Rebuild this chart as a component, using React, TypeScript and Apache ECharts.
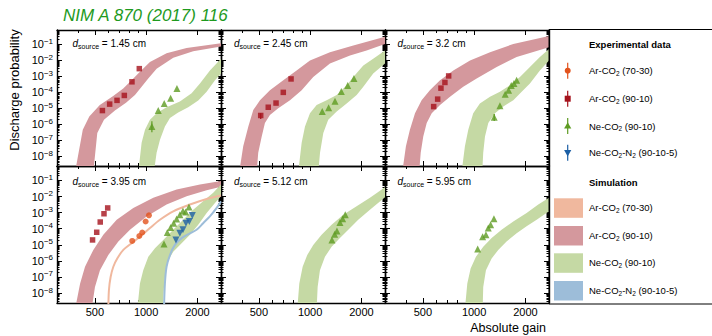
import React, { useEffect, useRef } from "react";
import * as echarts from "echarts";

type Pt = [number, number];
type Err = [number, number, number];

const FONT = "'Liberation Sans', Arial, Helvetica, sans-serif";

// ---- axes ----
const gainMin = 300;
const gainMax = 2750;
const probMin = 2.4e-9;
const probMax = 0.79;
const xTickValues = [500, 1000, 2000];
const xMinorTickValues = [300, 400, 600, 700, 800, 900];
const yTickExponents = [-8, -7, -6, -5, -4, -3, -2, -1];
const yMinorMantissas = [2, 3, 4, 5, 6, 7, 8, 9];
const panelSources = ["1.45", "2.45", "3.2", "3.95", "5.12", "5.95"];

const titleText = "NIM A 870 (2017) 116";
const yAxisTitle = "Discharge probability";
const xAxisTitle = "Absolute gain";
const legendExpTitle = "Experimental data";
const legendSimTitle = "Simulation";
const gasKeys = ["ar7030", "ar9010", "ne", "neN2"];
const gasLabels = [
  "{t|Ar-CO}{s|2}{t| (70-30)}",
  "{t|Ar-CO}{s|2}{t| (90-10)}",
  "{t|Ne-CO}{s|2}{t| (90-10)}",
  "{t|Ne-CO}{s|2}{t|-N}{s|2}{t| (90-10-5)}",
];

// ---- panel 1: d = 1.45 cm ----
const p1ArGain = [554, 611, 675, 745, 826, 912];
const p1ArProb = [7.1e-6, 1.8e-5, 3.1e-5, 6.3e-5, 4.5e-4, 3.0e-3];
const p1NeGain = [1081, 1178, 1277, 1392, 1517];
const p1NeProb = [7.2e-7, 7.1e-6, 2.0e-5, 4.2e-5, 1.7e-4];
const p1NeErr: Err[] = [[1081, 3.1e-7, 1.5e-6]];
const p1ArSimHi: Pt[] = [[383, 1e-9], [425, 4.5e-7], [464, 3.0e-6], [535, 1.6e-5], [641, 5.8e-5], [734, 1.7e-4], [822, 5.6e-4], [920, 1.9e-3], [1053, 7.8e-3], [1318, 2.8e-2], [1727, 6.0e-2], [2750, 1.15e-1]];
const p1ArSimLo: Pt[] = [[490, 1e-9], [517, 2.8e-7], [566, 1.9e-6], [656, 7.1e-6], [762, 2.2e-5], [860, 6.6e-5], [941, 2.2e-4], [1029, 7.2e-4], [1152, 3.0e-3], [1443, 1.45e-2], [1889, 3.7e-2], [2750, 7.2e-2]];
const p1NeSimHi: Pt[] = [[900, 1e-9], [941, 6.8e-8], [985, 4.5e-7], [1053, 1.9e-6], [1152, 4.9e-6], [1318, 1.15e-5], [1578, 2.6e-5], [1849, 8.5e-5], [2069, 3.5e-4], [2368, 2.3e-3], [2750, 1.26e-2]];
const p1NeSimLo: Pt[] = [[1111, 1e-9], [1152, 1.6e-8], [1206, 1.07e-7], [1289, 7.2e-7], [1380, 2.4e-6], [1542, 5.4e-6], [1766, 1.15e-5], [2022, 3.0e-5], [2265, 1.07e-4], [2535, 5.6e-4], [2750, 1.5e-3]];

// ---- panel 2: d = 2.45 cm ----
const p2ArGain = [513, 568, 631, 696, 773];
const p2ArProb = [3.5e-6, 1.15e-5, 2.1e-5, 9.8e-5, 6.8e-4];
const p2ArErr: Err[] = [[513, 2.1e-6, 4.9e-6]];
const p2NeGain = [1178, 1284, 1400, 1524, 1661, 1808];
const p2NeProb = [6.2e-6, 1.05e-5, 2.7e-5, 1.1e-4, 2.6e-4, 7.2e-4];
const p2ArSimHi: Pt[] = [[384, 1e-9], [405, 4.2e-8], [434, 7.2e-7], [464, 7.8e-6], [508, 3.2e-5], [581, 1.35e-4], [696, 5.6e-4], [833, 2.3e-3], [998, 9.8e-3], [1307, 3.2e-2], [1792, 8.3e-2], [2750, 3.0e-1]];
const p2ArSimLo: Pt[] = [[486, 1e-9], [496, 1.6e-8], [520, 1.7e-7], [543, 1.17e-6], [581, 3.8e-6], [650, 1.0e-5], [762, 3.2e-5], [892, 1.35e-4], [1043, 9.1e-4], [1307, 6.2e-3], [1714, 2.0e-2], [2145, 4.1e-2], [2750, 1.05e-1]];
const p2NeSimHi: Pt[] = [[852, 1e-9], [892, 6.8e-8], [933, 7.2e-7], [998, 4.9e-6], [1092, 1.6e-5], [1250, 3.2e-5], [1432, 6.6e-5], [1638, 2.75e-4], [1792, 9.1e-4], [2051, 4.8e-3], [2345, 1.26e-2], [2750, 4.1e-2]];
const p2NeSimLo: Pt[] = [[1117, 1e-9], [1143, 1.6e-8], [1195, 2.8e-7], [1277, 1.9e-6], [1432, 6.2e-6], [1638, 2.0e-5], [1875, 6.6e-5], [2051, 2.2e-4], [2345, 1.5e-3], [2750, 6.2e-3]];

// ---- panel 3: d = 3.2 cm ----
const p3ArGain = [579, 611, 639, 674, 709];
const p3ArProb = [1.26e-5, 3.7e-5, 1.8e-4, 4.1e-4, 1.05e-3];
const p3NeGain = [1312, 1417, 1522, 1593, 1651, 1713, 1776];
const p3NeProb = [2.75e-6, 1.4e-5, 7.6e-5, 1.35e-4, 2.6e-4, 3.5e-4, 5.6e-4];
const p3NeErr: Err[] = [[1312, 1.6e-6, 4.4e-6]];
const p3ArSimHi: Pt[] = [[379, 1e-9], [398, 4.2e-8], [420, 4.5e-7], [450, 4.9e-6], [492, 3.2e-5], [550, 1.35e-4], [631, 5.6e-4], [755, 2.3e-3], [946, 9.8e-3], [1240, 3.2e-2], [1698, 1.05e-1], [2750, 3.3e-1]];
const p3ArSimLo: Pt[] = [[476, 1e-9], [486, 1.6e-8], [503, 1.7e-7], [527, 1.17e-6], [564, 4.9e-6], [631, 1.6e-5], [722, 5.2e-5], [863, 2.2e-4], [1035, 7.2e-4], [1356, 3.8e-3], [1776, 1.6e-2], [2750, 6.5e-2]];
const p3NeSimHi: Pt[] = [[845, 1e-9], [883, 4.2e-8], [924, 4.5e-7], [988, 4.9e-6], [1081, 2.0e-5], [1239, 5.2e-5], [1417, 1.07e-4], [1622, 2.75e-4], [1857, 9.1e-4], [2125, 3.8e-3], [2432, 1.6e-2], [2750, 5.1e-2]];
const p3NeSimLo: Pt[] = [[1116, 1e-9], [1131, 1.6e-8], [1158, 1.7e-7], [1211, 1.17e-6], [1325, 4.9e-6], [1483, 1.26e-5], [1698, 3.2e-5], [1901, 1.07e-4], [2125, 3.5e-4], [2432, 2.3e-3], [2750, 9.8e-3]];

// ---- panel 4: d = 3.95 cm ----
const p4ArGain = [485, 513, 538, 566, 595];
const p4ArProb = [2.0e-5, 6.0e-5, 2.6e-4, 8.5e-4, 1.95e-3];
const p4Ar7030Gain = [829, 912, 949, 993, 1039];
const p4Ar7030Prob = [1.74e-5, 3.5e-5, 5.8e-5, 2.8e-4, 6.8e-4];
const p4NeGain = [1273, 1331, 1393, 1450, 1510, 1578, 1644, 1705, 1784];
const p4NeProb = [1.12e-5, 5.8e-5, 1.17e-4, 2.2e-4, 4.0e-4, 7.4e-4, 1.26e-3, 1.1e-3, 2.2e-3];
const p4NeN2Gain = [1496, 1578, 1644, 1713, 1792, 1866];
const p4NeN2Prob = [2.0e-5, 5.2e-5, 8.5e-5, 2.2e-4, 2.8e-4, 6.5e-4];
const p4ArSimHi: Pt[] = [[383, 1e-9], [410, 3.9e-8], [438, 4.3e-7], [490, 4.8e-6], [561, 4.2e-5], [672, 3.6e-4], [841, 1.95e-3], [1102, 8.3e-3], [1510, 2.75e-2], [2069, 5.6e-2], [2750, 9.1e-2]];
const p4ArSimLo: Pt[] = [[479, 1e-9], [501, 2.4e-8], [536, 2.6e-7], [600, 2.3e-6], [687, 1.6e-5], [804, 8.5e-5], [1006, 5.8e-4], [1318, 3.2e-3], [1729, 1.05e-2], [2265, 2.45e-2], [2750, 4.0e-2]];
const p4Ar7030Sim: Pt[] = [[600, 1e-9], [605, 1.5e-8], [619, 1.0e-7], [642, 4.3e-7], [677, 1.4e-6], [735, 4.8e-6], [822, 1.26e-5], [920, 3.2e-5], [1053, 1.1e-4], [1205, 3.6e-4], [1442, 1.2e-3], [1808, 3.2e-3], [2265, 7.1e-3], [2750, 1.15e-2]];
const p4NeSimHi: Pt[] = [[888, 1e-9], [920, 3.9e-8], [962, 2.6e-7], [1030, 1.8e-6], [1127, 6.0e-6], [1260, 2.0e-5], [1442, 8.5e-5], [1651, 3.6e-4], [1889, 1.5e-3], [2161, 5.0e-3], [2475, 1.7e-2], [2750, 5.6e-2]];
const p4NeSimLo: Pt[] = [[1250, 1e-9], [1273, 2.4e-8], [1302, 2.6e-7], [1350, 1.12e-6], [1442, 3.7e-6], [1615, 1.26e-5], [1808, 4.2e-5], [2022, 1.74e-4], [2265, 9.5e-4], [2535, 4.0e-3], [2750, 1.05e-2]];
const p4NeN2Sim: Pt[] = [[1273, 1e-9], [1289, 3.9e-8], [1318, 4.3e-7], [1380, 2.3e-6], [1475, 9.8e-6], [1615, 2.6e-5], [1808, 5.2e-5], [1977, 8.5e-5], [2161, 2.2e-4], [2366, 5.8e-4], [2594, 1.95e-3], [2750, 5.0e-3]];

// ---- panel 5: d = 5.12 cm ----
const p5NeGain = [1343, 1393, 1437, 1496, 1551, 1607];
const p5NeProb = [2.0e-5, 4.5e-5, 7.1e-5, 2.45e-4, 4.2e-4, 7.4e-4];
const p5NeSimHi: Pt[] = [[841, 1e-9], [864, 3.9e-8], [904, 4.3e-7], [962, 2.3e-6], [1043, 9.8e-6], [1168, 4.2e-5], [1337, 1.74e-4], [1565, 7.4e-4], [1874, 2.45e-3], [2244, 8.3e-3], [2750, 3.8e-2]];
const p5NeSimLo: Pt[] = [[1092, 1e-9], [1107, 2.4e-8], [1142, 2.6e-7], [1222, 1.8e-6], [1337, 7.6e-6], [1496, 2.6e-5], [1674, 8.5e-5], [1915, 3.6e-4], [2244, 1.5e-3], [2750, 8.9e-3]];

// ---- panel 6: d = 5.95 cm ----
const p6NeGain = [1049, 1122, 1173, 1210, 1250, 1307];
const p6NeProb = [5.5e-6, 3.2e-5, 4.2e-5, 1.1e-4, 1.74e-4, 4.2e-4];
const p6NeSimHi: Pt[] = [[883, 1e-9], [912, 3.9e-8], [954, 3.4e-7], [1025, 1.8e-6], [1131, 7.6e-6], [1267, 2.6e-5], [1449, 8.5e-5], [1697, 2.8e-4], [2032, 9.5e-4], [2379, 3.2e-3], [2750, 8.3e-3]];
const p6NeSimLo: Pt[] = [[1122, 1e-9], [1131, 2.4e-8], [1173, 2.6e-7], [1267, 1.4e-6], [1385, 4.8e-6], [1550, 1.6e-5], [1776, 5.2e-5], [2032, 1.4e-4], [2328, 3.6e-4], [2750, 1.2e-3]];

// ---- styles ----
const simColor: Record<string, string> = { ar7030: "#f0b89e", ar9010: "#d4989d", ne: "#c5d9a4", neN2: "#9dbdd9" };
const expColor: Record<string, string> = { ar7030: "#e2531d", ar9010: "#a5121c", ne: "#5e9b22", neN2: "#1c5fa5" };
const expSymbol: Record<string, [string, number, number]> = {
  ar7030: ["circle", 6, 0],
  ar9010: ["rect", 5.5, 0],
  ne: ["triangle", 7, 0],
  neN2: ["triangle", 7, 180],
};

type Band = { gas: string; hi: Pt[]; lo: Pt[] };
type Line = { gas: string; pts: Pt[] };
type Points = { gas: string; gain: number[]; prob: number[]; err?: Err[] };
type Panel = { source: string; bands: Band[]; lines: Line[]; points: Points[] };

const panels: Panel[] = [
  {
    source: panelSources[0],
    bands: [{ gas: "ar9010", hi: p1ArSimHi, lo: p1ArSimLo }, { gas: "ne", hi: p1NeSimHi, lo: p1NeSimLo }],
    lines: [],
    points: [{ gas: "ar9010", gain: p1ArGain, prob: p1ArProb }, { gas: "ne", gain: p1NeGain, prob: p1NeProb, err: p1NeErr }],
  },
  {
    source: panelSources[1],
    bands: [{ gas: "ar9010", hi: p2ArSimHi, lo: p2ArSimLo }, { gas: "ne", hi: p2NeSimHi, lo: p2NeSimLo }],
    lines: [],
    points: [{ gas: "ar9010", gain: p2ArGain, prob: p2ArProb, err: p2ArErr }, { gas: "ne", gain: p2NeGain, prob: p2NeProb }],
  },
  {
    source: panelSources[2],
    bands: [{ gas: "ar9010", hi: p3ArSimHi, lo: p3ArSimLo }, { gas: "ne", hi: p3NeSimHi, lo: p3NeSimLo }],
    lines: [],
    points: [{ gas: "ar9010", gain: p3ArGain, prob: p3ArProb }, { gas: "ne", gain: p3NeGain, prob: p3NeProb, err: p3NeErr }],
  },
  {
    source: panelSources[3],
    bands: [{ gas: "ar9010", hi: p4ArSimHi, lo: p4ArSimLo }, { gas: "ne", hi: p4NeSimHi, lo: p4NeSimLo }],
    lines: [{ gas: "ar7030", pts: p4Ar7030Sim }, { gas: "neN2", pts: p4NeN2Sim }],
    points: [
      { gas: "ar9010", gain: p4ArGain, prob: p4ArProb },
      { gas: "ar7030", gain: p4Ar7030Gain, prob: p4Ar7030Prob },
      { gas: "ne", gain: p4NeGain, prob: p4NeProb },
      { gas: "neN2", gain: p4NeN2Gain, prob: p4NeN2Prob },
    ],
  },
  {
    source: panelSources[4],
    bands: [{ gas: "ne", hi: p5NeSimHi, lo: p5NeSimLo }],
    lines: [],
    points: [{ gas: "ne", gain: p5NeGain, prob: p5NeProb }],
  },
  {
    source: panelSources[5],
    bands: [{ gas: "ne", hi: p6NeSimHi, lo: p6NeSimLo }],
    lines: [],
    points: [{ gas: "ne", gain: p6NeGain, prob: p6NeProb }],
  },
];

// ---- layout ----
const gridLefts = [57, 221, 385];
const gridWidth = 164;
const gridTops = [30, 166];
const gridHeights = [136, 137];
const labelDx = [15.5, 13, 12.5];
const labelDy = [13, 15];

const lg = (v: number) => Math.log10(v);

function makeX(g: number, pos: string, major: boolean, showLabel: boolean) {
  return {
    type: "value",
    gridIndex: g,
    position: pos,
    min: lg(gainMin),
    max: lg(gainMax),
    axisLine: { show: major, onZero: false, lineStyle: { color: "#000", width: 1.4 } },
    axisTick: {
      show: true,
      inside: true,
      length: major ? 5 : 3,
      customValues: (major ? xTickValues : xMinorTickValues).map(lg),
      lineStyle: { color: "#000", width: 1 },
    },
    axisLabel: {
      show: showLabel,
      customValues: xTickValues.map(lg),
      formatter: (v: number) => String(Math.round(Math.pow(10, v))),
      margin: 3,
      fontSize: 11,
      color: "#000",
      fontFamily: FONT,
    },
    splitLine: { show: false },
  };
}

function yMinorValues() {
  const out: number[] = [];
  for (let n = -9; n <= -1; n++) {
    for (const k of yMinorMantissas) {
      const v = lg(k) + n;
      if (v > lg(probMin) && v < lg(probMax)) out.push(v);
    }
  }
  return out;
}

function makeY(g: number, pos: string, major: boolean, showLabel: boolean) {
  return {
    type: "value",
    gridIndex: g,
    position: pos,
    min: lg(probMin),
    max: lg(probMax),
    axisLine: { show: major, onZero: false, lineStyle: { color: "#000", width: 1.4 } },
    axisTick: {
      show: true,
      inside: true,
      length: major ? 5 : 2.5,
      customValues: major ? yTickExponents : yMinorValues(),
      lineStyle: { color: "#000", width: 1 },
    },
    axisLabel: {
      show: showLabel,
      customValues: yTickExponents,
      margin: 4,
      formatter: (v: number) => {
        const n = Math.round(v);
        return `{b|10}{s|${n < 0 ? "\u2212" : ""}${Math.abs(n)}}`;
      },
      rich: {
        b: { fontSize: 11, lineHeight: 14, fontFamily: FONT, color: "#000", verticalAlign: "middle" },
        s: { fontSize: 8, lineHeight: 8, fontFamily: FONT, color: "#000", verticalAlign: "top" },
      },
    },
    splitLine: { show: false },
  };
}

function buildOption() {
  const grid: any[] = [];
  const xAxis: any[] = [];
  const yAxis: any[] = [];
  const series: any[] = [];
  const graphic: any[] = [];

  panels.forEach((p, g) => {
    const row = Math.floor(g / 3);
    const col = g % 3;
    grid.push({ left: gridLefts[col], top: gridTops[row], width: gridWidth, height: gridHeights[row], containLabel: false });
    xAxis.push(makeX(g, "bottom", true, row === 1));
    xAxis.push(makeX(g, "bottom", false, false));
    xAxis.push(makeX(g, "top", true, false));
    xAxis.push(makeX(g, "top", false, false));
    yAxis.push(makeY(g, "left", true, col === 0));
    yAxis.push(makeY(g, "left", false, false));
    yAxis.push(makeY(g, "right", true, false));
    yAxis.push(makeY(g, "right", false, false));
    const ai = g * 4;

    p.bands.forEach((b) => {
      const poly = b.hi.concat(b.lo.slice().reverse()).map(([x, y]) => [lg(x), lg(y)]);
      series.push({
        type: "custom",
        name: b.gas + " sim",
        xAxisIndex: ai,
        yAxisIndex: ai,
        clip: true,
        silent: true,
        z: 1,
        encode: { x: 0, y: 1 },
        data: poly,
        renderItem: (params: any, api: any) => {
          if (params.dataIndex !== 0) return null;
          return {
            type: "polygon",
            shape: { points: poly.map((pt) => api.coord(pt)) },
            style: { fill: simColor[b.gas], stroke: "none" },
          };
        },
      });
    });

    p.lines.forEach((l) => {
      series.push({
        type: "line",
        name: l.gas + " sim",
        xAxisIndex: ai,
        yAxisIndex: ai,
        data: l.pts.map(([x, y]) => [lg(x), lg(y)]),
        showSymbol: false,
        smooth: 0.3,
        clip: true,
        silent: true,
        z: 2,
        lineStyle: { color: simColor[l.gas], width: 2 },
      });
    });

    p.points.forEach((pt) => {
      if (pt.err) {
        series.push({
          type: "custom",
          name: pt.gas + " err",
          xAxisIndex: ai,
          yAxisIndex: ai,
          clip: true,
          silent: true,
          z: 3,
          encode: { x: 0, y: [1, 2] },
          data: pt.err.map(([x, lo, hi]) => [lg(x), lg(lo), lg(hi)]),
          renderItem: (params: any, api: any) => {
            const x = api.value(0);
            const a = api.coord([x, api.value(1)]);
            const c = api.coord([x, api.value(2)]);
            return {
              type: "line",
              shape: { x1: a[0], y1: a[1], x2: c[0], y2: c[1] },
              style: { stroke: expColor[pt.gas], lineWidth: 1.2 },
            };
          },
        });
      }
      const [sym, size, rot] = expSymbol[pt.gas];
      series.push({
        type: "scatter",
        name: pt.gas,
        xAxisIndex: ai,
        yAxisIndex: ai,
        symbol: sym,
        symbolSize: size,
        symbolRotate: rot,
        z: 4,
        silent: true,
        itemStyle: { color: expColor[pt.gas] },
        data: pt.gain.map((x, i) => [lg(x), lg(pt.prob[i])]),
      });
    });

    graphic.push({
      type: "text",
      x: gridLefts[col] + labelDx[col],
      y: gridTops[row] + labelDy[row],
      z: 10,
      style: {
        text: `{d|d}{s|source}{t| = ${p.source} cm}`,
        textAlign: "left",
        align: "left",
        textVerticalAlign: "middle",
        verticalAlign: "middle",
        rich: {
          d: { fontSize: 10, fontStyle: "italic", lineHeight: 13, fontFamily: FONT, fill: "#000", verticalAlign: "middle" },
          s: { fontSize: 7, lineHeight: 7, fontFamily: FONT, fill: "#000", verticalAlign: "bottom" },
          t: { fontSize: 10, lineHeight: 13, fontFamily: FONT, fill: "#000", verticalAlign: "middle" },
        },
      },
    });
  });

  // title and axis titles
  graphic.push({
    type: "text",
    x: 63,
    y: 15,
    style: {
      text: titleText,
      font: `italic 17px ${FONT}`,
      fill: "#1e9a1e",
      textAlign: "left",
      align: "left",
      textVerticalAlign: "middle",
      verticalAlign: "middle",
    },
  });
  graphic.push({
    type: "text",
    x: 14,
    y: 90,
    rotation: Math.PI / 2,
    style: {
      text: yAxisTitle,
      font: `13px ${FONT}`,
      fill: "#000",
      textAlign: "center",
      align: "center",
      textVerticalAlign: "middle",
      verticalAlign: "middle",
    },
  });
  graphic.push({
    type: "text",
    x: 546,
    y: 328,
    style: {
      text: xAxisTitle,
      font: `12.5px ${FONT}`,
      fill: "#000",
      textAlign: "right",
      align: "right",
      textVerticalAlign: "middle",
      verticalAlign: "middle",
    },
  });

  // legend box
  graphic.push({
    type: "rect",
    shape: { x: 549, y: 29.5, width: 170, height: 274.5 },
    style: { fill: "rgba(0,0,0,0)", stroke: "#000", lineWidth: 1 },
    z: 5,
  });
  const legendRich = {
    t: { fontSize: 9.5, lineHeight: 12, fontFamily: FONT, fill: "#000", verticalAlign: "middle" },
    s: { fontSize: 6.5, lineHeight: 6, fontFamily: FONT, fill: "#000", verticalAlign: "bottom" },
  };
  const headStyle = (text: string) => ({
    text,
    font: `bold 9.5px ${FONT}`,
    fill: "#000",
    textAlign: "left",
    align: "left",
    textVerticalAlign: "middle",
    verticalAlign: "middle",
  });
  graphic.push({ type: "text", x: 589, y: 44, style: headStyle(legendExpTitle) });
  graphic.push({ type: "text", x: 589, y: 182, style: headStyle(legendSimTitle) });

  const expRowsY = [70.7, 98.7, 126, 152.7];
  const simRowsY = [198.3, 226, 253.3, 281];
  const mx = 567.7;
  gasKeys.forEach((gas, i) => {
    const y = expRowsY[i];
    const c = expColor[gas];
    graphic.push({ type: "line", shape: { x1: mx, y1: y - 8, x2: mx, y2: y + 8 }, style: { stroke: c, lineWidth: 1.2 } });
    if (gas === "ar7030") graphic.push({ type: "circle", shape: { cx: mx, cy: y, r: 3 }, style: { fill: c } });
    else if (gas === "ar9010") graphic.push({ type: "rect", shape: { x: mx - 3, y: y - 3, width: 6, height: 6 }, style: { fill: c } });
    else if (gas === "ne") graphic.push({ type: "polygon", shape: { points: [[mx, y - 3.8], [mx + 3.6, y + 2.6], [mx - 3.6, y + 2.6]] }, style: { fill: c } });
    else graphic.push({ type: "polygon", shape: { points: [[mx, y + 3.8], [mx + 3.6, y - 2.6], [mx - 3.6, y - 2.6]] }, style: { fill: c } });
    graphic.push({
      type: "text",
      x: 589,
      y,
      style: { text: gasLabels[i], rich: legendRich, textAlign: "left", align: "left", textVerticalAlign: "middle", verticalAlign: "middle" },
    });
    const sy = simRowsY[i];
    graphic.push({ type: "rect", shape: { x: 554, y: sy, width: 29, height: 19.5 }, style: { fill: simColor[gas] } });
    graphic.push({
      type: "text",
      x: 589,
      y: sy + 9.5,
      style: { text: gasLabels[i], rich: legendRich, textAlign: "left", align: "left", textVerticalAlign: "middle", verticalAlign: "middle" },
    });
  });

  return {
    animation: false,
    backgroundColor: "#fff",
    grid,
    xAxis,
    yAxis,
    series,
    graphic,
  };
}

export default function App() {
  const ref = useRef<HTMLDivElement>(null);
  useEffect(() => {
    document.body.style.margin = "0";
    if (!ref.current) return;
    const chart = echarts.init(ref.current, undefined, { renderer: "svg" });
    chart.setOption(buildOption() as any);
    return () => chart.dispose();
  }, []);
  return <div ref={ref} style={{ width: 712, height: 336 }} />;
}
